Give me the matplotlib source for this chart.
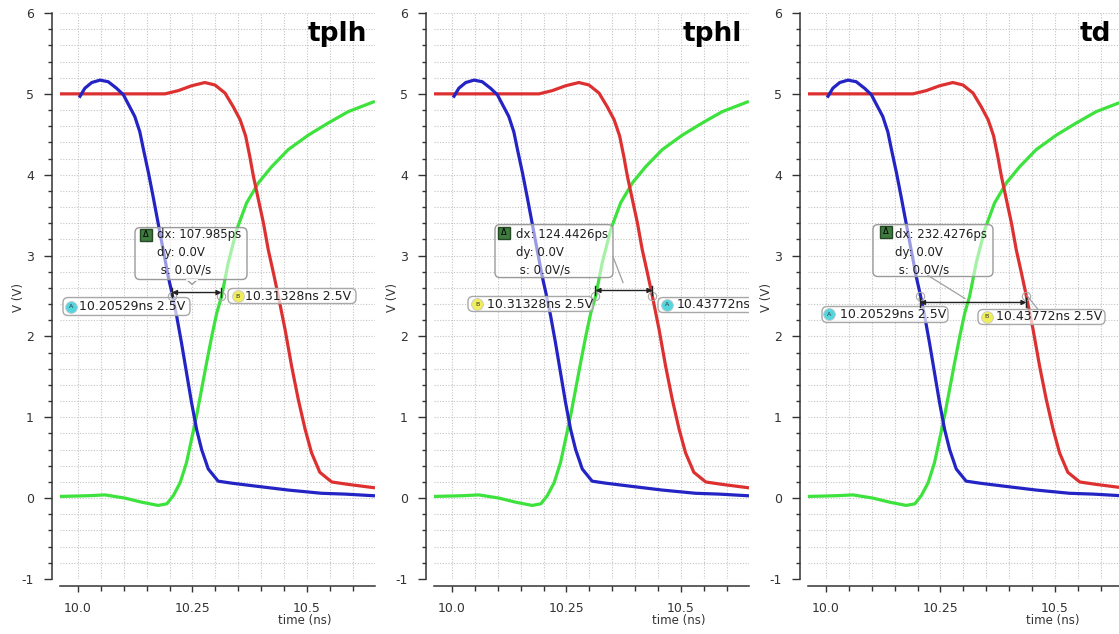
import matplotlib.pyplot as plt
from matplotlib.patches import FancyBboxPatch, Polygon
from matplotlib.ticker import MultipleLocator

plt.rcParams['axes.unicode_minus'] = False

# waveforms (time in ns, volts)
blue_t = [10.0044, 10.015, 10.030, 10.048, 10.066, 10.084, 10.099, 10.111, 10.124, 10.135,
          10.143, 10.154, 10.164, 10.175, 10.186, 10.197, 10.205, 10.2155, 10.226, 10.237,
          10.248, 10.259, 10.270, 10.2845, 10.306, 10.336, 10.386, 10.459, 10.532, 10.583,
          10.645]
blue_v = [4.97, 5.07, 5.14, 5.17, 5.15, 5.07, 4.99, 4.86, 4.72, 4.53,
          4.31, 4.02, 3.73, 3.40, 3.07, 2.74, 2.54, 2.25, 1.92, 1.55,
          1.18, 0.85, 0.60, 0.36, 0.21, 0.185, 0.15, 0.10, 0.06, 0.05,
          0.03]

red_t = [9.9535, 10.059, 10.19, 10.219, 10.248, 10.277, 10.299, 10.321, 10.339, 10.354,
         10.366, 10.375, 10.383, 10.394, 10.405, 10.4155, 10.4265, 10.436, 10.452, 10.4665,
         10.481, 10.496, 10.510, 10.528, 10.554, 10.590, 10.645]
red_v = [5.0, 5.0, 5.0, 5.04, 5.10, 5.14, 5.11, 5.01, 4.84, 4.68,
         4.48, 4.23, 3.98, 3.69, 3.40, 3.07, 2.79, 2.54, 2.09, 1.63,
         1.22, 0.85, 0.56, 0.32, 0.20, 0.17, 0.13]

green_t = [9.9535, 10.0225, 10.059, 10.103, 10.139, 10.175, 10.194, 10.208, 10.223, 10.237,
           10.248, 10.259, 10.270, 10.281, 10.292, 10.303, 10.3137, 10.328, 10.3465, 10.368,
           10.394, 10.423, 10.459, 10.503, 10.5465, 10.590, 10.645]
green_v = [0.02, 0.03, 0.04, 0.0, -0.05, -0.09, -0.07, 0.03, 0.19, 0.44,
           0.73, 1.02, 1.35, 1.68, 2.0, 2.29, 2.50, 2.91, 3.32, 3.65,
           3.90, 4.10, 4.31, 4.49, 4.64, 4.78, 4.90]

titles = ['tplh', 'tphl', 'td']
dx_text = ['107.985ps', '124.4426ps', '232.4276ps']
cursor_a = [10.20529, 10.43772, 10.20529]
cursor_b = [10.31328, 10.31328, 10.43772]
cursor_v = 2.5

# layout of the marker boxes per panel (data coords)
layout = [
    dict(box=(10.1245, 2.704, 0.2445, 0.642), icon=(10.1485, 3.26), txt=(10.1725, 3.335),
         notch=10.249, arrow_y=2.543, title_x=0.975, a_cut=False,
         a_box=(9.9672, 2.259, 0.2773, 0.222), a_icon=(9.9847, 2.37), a_txt=10.003,
         b_box=(10.3275, 2.407, 0.2795, 0.186), b_icon=(10.349, 2.50), b_txt=10.364,
         lines=[]),
    dict(box=(10.0939, 2.728, 0.2576, 0.655), icon=(10.1135, 3.28), txt=(10.1397, 3.335),
         notch=None, arrow_y=2.568, title_x=0.978, a_cut=True,
         a_box=(10.4498, 2.296, 0.277, 0.185), a_icon=(10.4694, 2.39), a_txt=10.4903,
         b_box=(10.0349, 2.309, 0.273, 0.185), b_icon=(10.0546, 2.401), b_txt=10.0754,
         lines=[((10.3515, 10.3734), (2.988, 2.667))]),
    dict(box=(10.1026, 2.741, 0.262, 0.642), icon=(10.131, 3.296), txt=(10.1507, 3.335),
         notch=None, arrow_y=2.42, title_x=0.962, a_cut=False,
         a_box=(9.9913, 2.173, 0.2751, 0.197), a_icon=(10.0066, 2.272), a_txt=10.0296,
         b_box=(10.3319, 2.148, 0.2773, 0.185), b_icon=(10.3515, 2.241), b_txt=10.3702,
         lines=[((10.2227, 10.3035), (2.753, 2.469)), ((10.4389, 10.4629), (2.506, 2.333))]),
]

ASPECT = 458 / 81  # px per ns / px per volt

fig = plt.figure(figsize=(11.19, 6.34), dpi=100)

for i in range(3):
    L = layout[i]
    left = 60 + 374 * i
    ax = fig.add_axes([left / 1119, 55 / 634, 315 / 1119, 566 / 634])
    ax.set_xlim(9.9607, 10.6485)
    ax.set_ylim(-1, 6)

    ax.plot(green_t, green_v, color='#3de23d', lw=2.3, zorder=3, solid_joinstyle='round')
    ax.plot(red_t, red_v, color='#dd3131', lw=2.3, zorder=3, solid_joinstyle='round')
    ax.plot(blue_t, blue_v, color='#2424c4', lw=2.3, zorder=3, solid_joinstyle='round')

    # axes styling
    for s in ['top', 'right']:
        ax.spines[s].set_visible(False)
    ax.spines['left'].set_position(('outward', 5.8))
    ax.spines['bottom'].set_position(('outward', 5))
    for s in ['left', 'bottom']:
        ax.spines[s].set_color('#333333')
        ax.spines[s].set_linewidth(1.1)
    ax.xaxis.set_minor_locator(MultipleLocator(0.05))
    ax.yaxis.set_major_locator(MultipleLocator(1))
    ax.yaxis.set_minor_locator(MultipleLocator(0.2))
    ax.set_xticks([10.0, 10.25, 10.5])
    ax.set_xticklabels(['10.0', '10.25', '10.5'])
    ax.tick_params(axis='both', which='both', colors='#333333', labelsize=9, width=1)
    ax.tick_params(axis='y', which='major', length=6, pad=7)
    ax.tick_params(axis='y', which='minor', length=3)
    ax.tick_params(axis='x', which='major', length=4.5, pad=7)
    ax.tick_params(axis='x', which='minor', length=3.5)
    ax.grid(which='both', linestyle=(0, (1, 1.5)), color='#c4c4c4', linewidth=0.8)
    ax.set_axisbelow(True)

    ax.text(-0.132, 0.498, 'V (V)', transform=ax.transAxes, rotation=90,
            ha='center', va='center', fontsize=8.5, color='#333333')
    ax.text(0.778, -0.074, 'time (ns)', transform=ax.transAxes,
            ha='center', va='center', fontsize=8.5, color='#333333')
    ax.text(L['title_x'], 0.986, titles[i], transform=ax.transAxes, ha='right', va='top',
            fontsize=19, fontweight='heavy', color='black', zorder=6)

    # delta box
    x0, y0, w, h = L['box']
    ax.add_patch(FancyBboxPatch((x0, y0), w, h, boxstyle='round,pad=0,rounding_size=0.011',
                                mutation_aspect=ASPECT, fc='white', alpha=0.55, ec='none', zorder=4))
    ax.add_patch(FancyBboxPatch((x0, y0), w, h, boxstyle='round,pad=0,rounding_size=0.011',
                                mutation_aspect=ASPECT, fc='none', ec='#9a9a9a', lw=1, zorder=4))
    if L['notch'] is not None:
        nx = L['notch']
        ax.add_patch(Polygon([(nx - 0.012, y0), (nx, y0 - 0.06), (nx + 0.012, y0)],
                             closed=True, fc='white', ec='#9a9a9a', lw=1, zorder=4))
        ax.plot([nx - 0.011, nx + 0.011], [y0, y0], color='white', lw=1.3, zorder=4)
    ix, iy = L['icon']
    ax.plot(ix, iy, marker='s', ms=9, mfc='#3f7a3f', mec='#254825', zorder=5)
    ax.text(ix, iy, 'Δ', ha='center', va='center', fontsize=6, color='black', zorder=6)
    tx, ty = L['txt']
    ax.text(tx, ty, 'dx: ' + dx_text[i] + '\ndy: 0.0V\n s: 0.0V/s', ha='left', va='top',
            fontsize=8.5, linespacing=1.45, color='#202020', zorder=5)

    for (lx, ly) in L['lines']:
        ax.plot(lx, ly, color='#a0a0a0', lw=0.9, zorder=4)

    # cursor labels
    for key, val, col, letter in [('a', cursor_a[i], '#55d6df', 'A'),
                                  ('b', cursor_b[i], '#f0ee5a', 'B')]:
        bx0, by0, bw, bh = L[key + '_box']
        ax.add_patch(FancyBboxPatch((bx0, by0), bw, bh, boxstyle='round,pad=0,rounding_size=0.011',
                                    mutation_aspect=ASPECT, fc='white', alpha=0.7, ec='none', zorder=4))
        ax.add_patch(FancyBboxPatch((bx0, by0), bw, bh, boxstyle='round,pad=0,rounding_size=0.011',
                                    mutation_aspect=ASPECT, fc='none', ec='#a8a8a8', lw=1, zorder=4))
        cx, cy = L[key + '_icon']
        ax.plot(cx, cy, marker='o', ms=8.5, mfc=col, mec='#c8c8c8', mew=0.6, zorder=5)
        ax.text(cx, cy, letter, ha='center', va='center', fontsize=4.5, color='#333333', zorder=6)
        label = '%.5fns' % val
        if not (key == 'a' and L['a_cut']):
            label += ' 2.5V'   # panel 2's label runs off the plot edge in the original
        ax.text(L[key + '_txt'], cy, label, ha='left', va='center',
                fontsize=9, color='#202020', zorder=5, clip_on=True)
        ax.plot(val, cursor_v, marker='o', ms=6, mfc='none', mec='#a8a8a8', mew=0.8, zorder=4)

    # dx arrow between the two cursors
    ay = L['arrow_y']
    a, b = sorted([cursor_a[i], cursor_b[i]])
    ax.annotate('', xy=(b, ay), xytext=(a, ay),
                arrowprops=dict(arrowstyle='<|-|>', color='#222222', lw=1,
                                mutation_scale=7, shrinkA=0, shrinkB=0), zorder=5)
    for xe in (a, b):
        ax.plot([xe, xe], [ay - 0.06, ay + 0.06], color='#222222', lw=1, zorder=5)

fig.savefig('out.png', dpi=100)
